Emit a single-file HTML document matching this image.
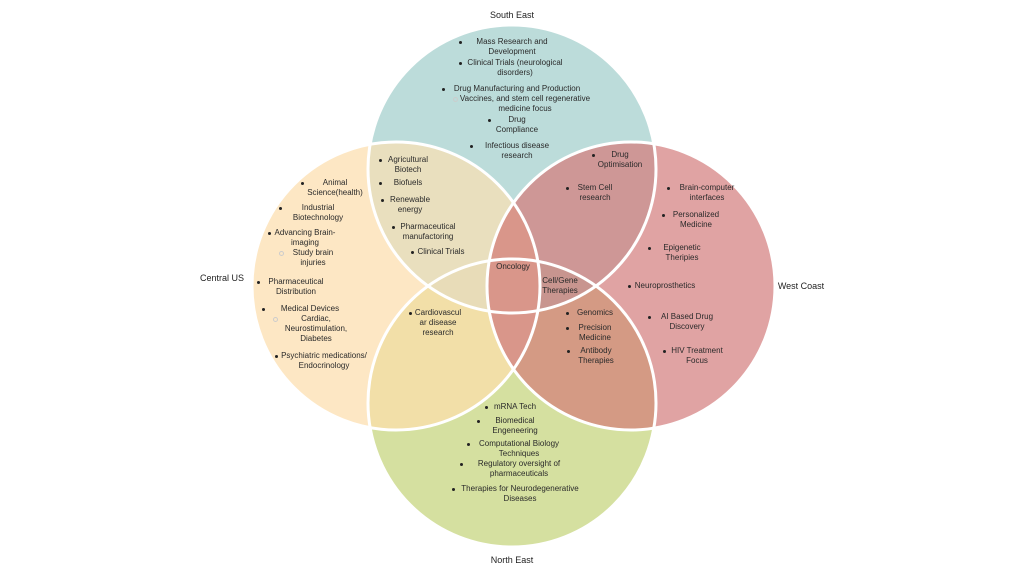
<!DOCTYPE html>
<html><head><meta charset="utf-8"><style>
body{margin:0;width:1024px;height:576px;background:#fff;position:relative;overflow:hidden;font-family:"Liberation Sans",sans-serif;color:#2a2a2a}
svg{position:absolute;left:0;top:0}
.t{position:absolute;transform:translateX(-50%);text-align:center;white-space:nowrap;font-size:8px;line-height:10px}
.b{position:absolute;width:3px;height:3px;border-radius:50%;background:#222;margin:-1.5px 0 0 -1.5px}
.o{position:absolute;width:3px;height:3px;border-radius:50%;border:0.7px solid #ccc;margin:-2px 0 0 -2px}
.l{position:absolute;font-size:9px;white-space:nowrap;transform:translateX(-50%);color:#222}
</style></head><body>
<svg width="1024" height="576">
<defs>
<clipPath id="T"><circle cx="512" cy="169" r="144"/></clipPath>
<clipPath id="B"><circle cx="512" cy="403" r="144"/></clipPath>
<clipPath id="L"><circle cx="396" cy="286" r="144"/></clipPath>
<clipPath id="R"><circle cx="631" cy="286" r="144"/></clipPath>
</defs>
<circle cx="512" cy="169" r="144" fill="#bcdcda"/>
<circle cx="512" cy="403" r="144" fill="#d5e0a0"/>
<circle cx="396" cy="286" r="144" fill="#fde7c4"/>
<circle cx="631" cy="286" r="144" fill="#e0a3a3"/>
<g clip-path="url(#T)"><circle cx="396" cy="286" r="144" fill="#e9dfbe"/><circle cx="631" cy="286" r="144" fill="#ce9796"/></g>
<g clip-path="url(#B)"><circle cx="396" cy="286" r="144" fill="#f2dfa8"/><circle cx="631" cy="286" r="144" fill="#d49a84"/></g>
<g clip-path="url(#T)"><g clip-path="url(#B)"><circle cx="396" cy="286" r="144" fill="#e8dcb8"/><circle cx="631" cy="286" r="144" fill="#c8958f"/></g></g>
<g clip-path="url(#L)"><circle cx="631" cy="286" r="144" fill="#d9968a"/></g>
<g fill="none" stroke="#fff" stroke-width="3">
<circle cx="512" cy="169" r="144"/><circle cx="512" cy="403" r="144"/>
<circle cx="396" cy="286" r="144"/><circle cx="631" cy="286" r="144"/>
</g>
</svg>
<div class="l" style="left:512px;top:10px">South East</div>
<div class="l" style="left:222px;top:273px">Central US</div>
<div class="l" style="left:801px;top:281px">West Coast</div>
<div class="l" style="left:512px;top:555px">North East</div>

<div class="b" style="left:460px;top:42px"></div><div class="t" style="left:512px;top:37px">Mass Research and<br>Development</div>
<div class="b" style="left:460px;top:63px"></div><div class="t" style="left:515px;top:58px">Clinical Trials (neurological<br>disorders)</div>
<div class="b" style="left:443px;top:89px"></div><div class="t" style="left:517px;top:84px">Drug Manufacturing and Production</div>
<div class="o" style="left:455px;top:99px"></div><div class="t" style="left:525px;top:94px">Vaccines, and stem cell regenerative<br>medicine focus</div>
<div class="b" style="left:489px;top:120px"></div><div class="t" style="left:517px;top:115px">Drug<br>Compliance</div>
<div class="b" style="left:471px;top:146px"></div><div class="t" style="left:517px;top:141px">Infectious disease<br>research</div>

<div class="b" style="left:380px;top:160px"></div><div class="t" style="left:408px;top:155px">Agricultural<br>Biotech</div>
<div class="b" style="left:380px;top:183px"></div><div class="t" style="left:408px;top:178px">Biofuels</div>
<div class="b" style="left:382px;top:200px"></div><div class="t" style="left:410px;top:195px">Renewable<br>energy</div>
<div class="b" style="left:393px;top:227px"></div><div class="t" style="left:428px;top:222px">Pharmaceutical<br>manufactoring</div>
<div class="b" style="left:412px;top:252px"></div><div class="t" style="left:441px;top:247px">Clinical Trials</div>

<div class="b" style="left:302px;top:183px"></div><div class="t" style="left:335px;top:178px">Animal<br>Science(health)</div>
<div class="b" style="left:280px;top:208px"></div><div class="t" style="left:318px;top:203px">Industrial<br>Biotechnology</div>
<div class="b" style="left:269px;top:233px"></div><div class="t" style="left:305px;top:228px">Advancing Brain-<br>imaging</div>
<div class="o" style="left:281px;top:253px"></div><div class="t" style="left:313px;top:248px">Study brain<br>injuries</div>
<div class="b" style="left:258px;top:282px"></div><div class="t" style="left:296px;top:277px">Pharmaceutical<br>Distribution</div>
<div class="b" style="left:263px;top:309px"></div><div class="t" style="left:310px;top:304px">Medical Devices</div>
<div class="o" style="left:275px;top:319px"></div><div class="t" style="left:316px;top:314px">Cardiac,<br>Neurostimulation,<br>Diabetes</div>
<div class="b" style="left:276px;top:356px"></div><div class="t" style="left:324px;top:351px">Psychiatric medications/<br>Endocrinology</div>

<div class="b" style="left:410px;top:313px"></div><div class="t" style="left:438px;top:308px">Cardiovascul<br>ar disease<br>research</div>

<div class="b" style="left:593px;top:155px"></div><div class="t" style="left:620px;top:150px">Drug<br>Optimisation</div>
<div class="b" style="left:567px;top:188px"></div><div class="t" style="left:595px;top:183px">Stem Cell<br>research</div>

<div class="b" style="left:668px;top:188px"></div><div class="t" style="left:707px;top:183px">Brain-computer<br>interfaces</div>
<div class="b" style="left:663px;top:215px"></div><div class="t" style="left:696px;top:210px">Personalized<br>Medicine</div>
<div class="b" style="left:649px;top:248px"></div><div class="t" style="left:682px;top:243px">Epigenetic<br>Theripies</div>
<div class="b" style="left:629px;top:286px"></div><div class="t" style="left:665px;top:281px">Neuroprosthetics</div>
<div class="b" style="left:649px;top:317px"></div><div class="t" style="left:687px;top:312px">AI Based Drug<br>Discovery</div>
<div class="b" style="left:664px;top:351px"></div><div class="t" style="left:697px;top:346px">HIV Treatment<br>Focus</div>

<div class="t" style="left:513px;top:262px">Oncology</div>
<div class="t" style="left:560px;top:276px">Cell/Gene<br>Therapies</div>

<div class="b" style="left:567px;top:313px"></div><div class="t" style="left:595px;top:308px">Genomics</div>
<div class="b" style="left:567px;top:328px"></div><div class="t" style="left:595px;top:323px">Precision<br>Medicine</div>
<div class="b" style="left:568px;top:351px"></div><div class="t" style="left:596px;top:346px">Antibody<br>Therapies</div>

<div class="b" style="left:486px;top:407px"></div><div class="t" style="left:515px;top:402px">mRNA Tech</div>
<div class="b" style="left:478px;top:421px"></div><div class="t" style="left:515px;top:416px">Biomedical<br>Engeneering</div>
<div class="b" style="left:468px;top:444px"></div><div class="t" style="left:519px;top:439px">Computational Biology<br>Techniques</div>
<div class="b" style="left:461px;top:464px"></div><div class="t" style="left:519px;top:459px">Regulatory oversight of<br>pharmaceuticals</div>
<div class="b" style="left:453px;top:489px"></div><div class="t" style="left:520px;top:484px">Therapies for Neurodegenerative<br>Diseases</div>
</body></html>
